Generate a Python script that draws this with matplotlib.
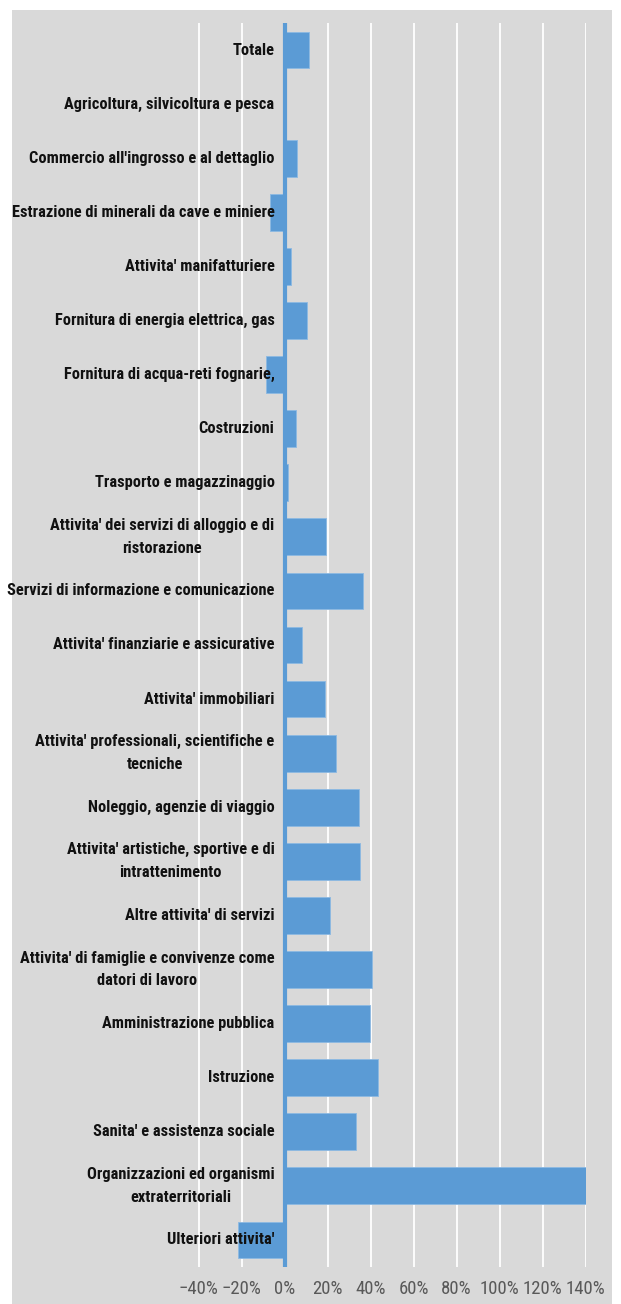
import matplotlib.pyplot as plt
from matplotlib import font_manager
from matplotlib.patches import Rectangle
from matplotlib.ticker import PercentFormatter

categories = [
    "Totale",
    "Agricoltura, silvicoltura e pesca",
    "Commercio all'ingrosso e al dettaglio",
    "Estrazione di minerali da cave e miniere",
    "Attivita' manifatturiere",
    "Fornitura di energia elettrica, gas",
    "Fornitura di acqua-reti fognarie,",
    "Costruzioni",
    "Trasporto e magazzinaggio",
    "Attivita' dei servizi di alloggio e di\nristorazione",
    "Servizi di informazione e comunicazione",
    "Attivita' finanziarie e assicurative",
    "Attivita' immobiliari",
    "Attivita' professionali, scientifiche e\ntecniche",
    "Noleggio, agenzie di viaggio",
    "Attivita' artistiche, sportive e di\nintrattenimento",
    "Altre attivita' di servizi",
    "Attivita' di famiglie e convivenze come\ndatori di lavoro",
    "Amministrazione pubblica",
    "Istruzione",
    "Sanita' e assistenza sociale",
    "Organizzazioni ed organismi\nextraterritoriali",
    "Ulteriori attivita'",
]

values = [0.115, 0.0, 0.057, -0.067, 0.030, 0.103, -0.088, 0.052, 0.015,
          0.193, 0.367, 0.081, 0.187, 0.241, 0.348, 0.353, 0.212, 0.407,
          0.398, 0.433, 0.333, 1.401, -0.218]

xticks = [-0.4, -0.2, 0, 0.2, 0.4, 0.6, 0.8, 1.0, 1.2, 1.4]

blue = '#5B9BD5'
gray = '#D9D9D9'

# pick a narrow font if one is installed
installed = {f.name for f in font_manager.fontManager.ttflist}
narrow = None
for name in ['Liberation Sans Narrow', 'Roboto Condensed', 'Open Sans Condensed']:
    if name in installed:
        narrow = name
        break
if narrow:
    fam = [narrow, 'DejaVu Sans']
    stretch = 'normal'
    lab_size, tick_size = 11.8, 13.5
else:
    fam = ['DejaVu Sans']
    stretch = 'condensed'
    lab_size, tick_size = 9.8, 11.5

fig = plt.figure(figsize=(6.21, 13.04), dpi=100)
fig.patch.set_facecolor('white')
fig.patches.append(Rectangle((12 / 621, 0), 600 / 621, 1 - 10 / 1304,
                             transform=fig.transFigure, facecolor=gray,
                             edgecolor='none', zorder=-10))

ax = fig.add_axes([198.5 / 621, 1 - 1267 / 1304, 387.2 / 621, 1244 / 1304])
ax.set_facecolor(gray)

y = list(range(len(categories)))
ax.barh(y, values, height=0.68, color=blue, edgecolor='#8DB9E2',
        linewidth=0.6, zorder=2)
ax.axvline(0, color=blue, linewidth=3, zorder=3)

ax.set_xlim(-0.4, 1.4)
ax.set_ylim(len(categories) - 0.5, -0.5)
ax.set_xticks(xticks)
ax.xaxis.set_major_formatter(PercentFormatter(1.0, decimals=0))
ax.grid(axis='x', color='white', linewidth=1.3, zorder=1)
ax.set_axisbelow(True)
ax.set_yticks([])
ax.tick_params(axis='x', length=0, pad=9, labelsize=tick_size, labelcolor='#595959')
for lbl in ax.get_xticklabels():
    lbl.set_family(fam)
    lbl.set_stretch(stretch)
for s in ax.spines.values():
    s.set_visible(False)

for yi, name in zip(y, categories):
    ax.annotate(name, xy=(0, yi), xytext=(-10, 0), textcoords='offset pixels',
                ha='right', va='center', multialignment='center',
                fontsize=lab_size, fontweight='bold', family=fam,
                fontstretch=stretch, color='#111111',
                linespacing=1.65, zorder=5, annotation_clip=False)

fig.savefig('out.png', dpi=100)
